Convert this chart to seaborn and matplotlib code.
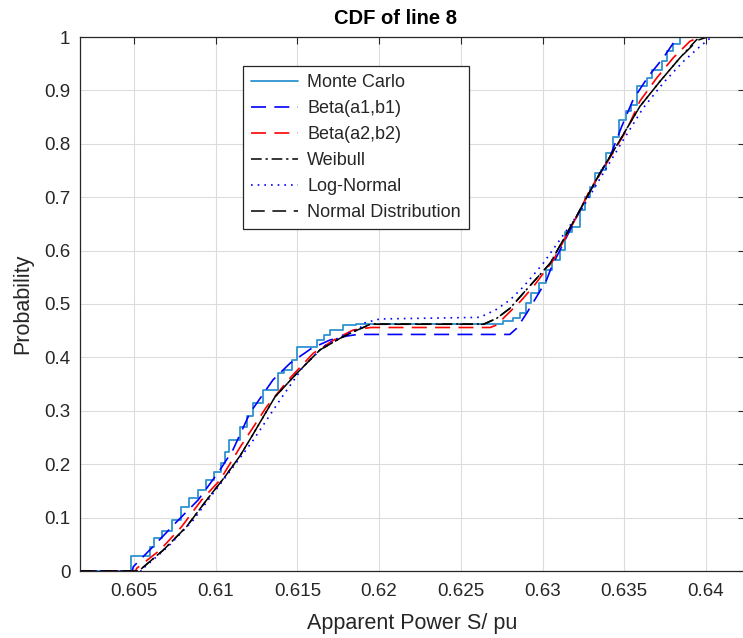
import numpy as np
import pandas as pd
import matplotlib
matplotlib.use("Agg")
import matplotlib.pyplot as plt
import seaborn as sns

# ---------------- data ----------------
mc_x = [0.6017, 0.6048, 0.6060, 0.6062, 0.6067, 0.6073, 0.6079, 0.6084, 0.6089, 0.6094,
        0.6099, 0.6103, 0.6106, 0.6108, 0.6115, 0.6119, 0.6123, 0.6129, 0.6138, 0.6142,
        0.6147, 0.6150, 0.6162, 0.6166, 0.6170, 0.6178, 0.6186, 0.6276, 0.6282, 0.6286,
        0.6290, 0.6293, 0.6298, 0.6302, 0.6306, 0.6311, 0.6314, 0.6318, 0.6323, 0.6326,
        0.6329, 0.6332, 0.6336, 0.6339, 0.6343, 0.6347, 0.6351, 0.6354, 0.6358, 0.6364,
        0.6367, 0.6373, 0.6376, 0.6380, 0.6384, 0.6425]
mc_y = [0.0, 0.028, 0.045, 0.061, 0.075, 0.095, 0.120, 0.137, 0.152, 0.170,
        0.185, 0.202, 0.222, 0.245, 0.270, 0.290, 0.314, 0.339, 0.370, 0.376,
        0.395, 0.420, 0.433, 0.442, 0.451, 0.461, 0.463, 0.468, 0.473, 0.483,
        0.501, 0.520, 0.539, 0.564, 0.582, 0.601, 0.635, 0.645, 0.676, 0.700,
        0.720, 0.745, 0.751, 0.782, 0.813, 0.845, 0.862, 0.873, 0.908, 0.923,
        0.939, 0.955, 0.974, 0.986, 1.0, 1.0]

beta1_x = [0.6017, 0.6049, 0.60496, 0.60618, 0.60761, 0.60893, 0.61026, 0.61106, 0.61210,
           0.61351, 0.61455, 0.61587, 0.61700, 0.61802, 0.6187, 0.6280, 0.62842, 0.62903,
           0.62964, 0.63025, 0.63056, 0.63107, 0.63270, 0.63413, 0.63484, 0.63555, 0.63647,
           0.63739, 0.63821, 0.63841, 0.6425]
beta1_y = [0.0, 0.0, 0.008, 0.046, 0.092, 0.133, 0.189, 0.227, 0.296,
           0.358, 0.389, 0.417, 0.4326, 0.440, 0.443, 0.443, 0.4545, 0.4826,
           0.5137, 0.545, 0.570, 0.601, 0.700, 0.776, 0.832, 0.883, 0.926,
           0.961, 0.998, 1.0, 1.0]

beta2_x = [0.6017, 0.6051, 0.60517, 0.60659, 0.60792, 0.60914, 0.61026, 0.61150, 0.61312,
           0.61444, 0.61597, 0.61740, 0.61842, 0.6195, 0.6268, 0.62719, 0.62801, 0.62862,
           0.62943, 0.63004, 0.63066, 0.63209, 0.63290, 0.63392, 0.63515, 0.63596, 0.63698,
           0.63800, 0.63902, 0.63963, 0.6425]
beta2_y = [0.0, 0.0, 0.005, 0.039, 0.083, 0.133, 0.170, 0.232, 0.3077,
           0.3577, 0.4077, 0.4358, 0.4513, 0.456, 0.456, 0.4607, 0.4856, 0.504,
           0.532, 0.557, 0.582, 0.6635, 0.7135, 0.7635, 0.826, 0.880, 0.923,
           0.961, 0.992, 1.0, 1.0]

weib_x = [0.6017, 0.6053, 0.60537, 0.60679, 0.60822, 0.60945, 0.61057, 0.61150, 0.61220,
          0.61363, 0.61496, 0.61638, 0.61761, 0.61842, 0.6195, 0.6264, 0.62719, 0.62801,
          0.62882, 0.62964, 0.63046, 0.63229, 0.63351, 0.63474, 0.63596, 0.63719, 0.63841,
          0.63943, 0.64005, 0.6425]
weib_y = [0.0, 0.0, 0.002, 0.039, 0.083, 0.133, 0.1766, 0.216, 0.2515,
          0.326, 0.370, 0.414, 0.4357, 0.448, 0.4625, 0.4625, 0.473, 0.492,
          0.520, 0.548, 0.576, 0.676, 0.745, 0.807, 0.870, 0.917, 0.961,
          0.995, 1.0, 1.0]

logn_x = [0.6017, 0.6055, 0.60557, 0.60710, 0.60863, 0.60985, 0.61108, 0.61230, 0.61393,
          0.61536, 0.61658, 0.61781, 0.61883, 0.61903, 0.62005, 0.62617, 0.62719, 0.62801,
          0.62882, 0.62943, 0.63004, 0.63249, 0.63372, 0.63494, 0.63616, 0.63739, 0.63861,
          0.63963, 0.64014, 0.64037, 0.6425]
logn_y = [0.0, 0.0, 0.005, 0.046, 0.0955, 0.1455, 0.195, 0.245, 0.320,
          0.3826, 0.420, 0.442, 0.4545, 0.464, 0.472, 0.475, 0.490, 0.5075,
          0.532, 0.554, 0.576, 0.682, 0.745, 0.807, 0.867, 0.914, 0.954,
          0.982, 0.995, 1.0, 1.0]

norm_x = [0.6017, 0.6053, 0.60537, 0.60679, 0.60822, 0.60945, 0.61057, 0.61150, 0.61220,
          0.61363, 0.61496, 0.61638, 0.61761, 0.61842, 0.6195, 0.6264, 0.62719, 0.62801,
          0.62882, 0.62964, 0.63046, 0.63229, 0.63351, 0.63474, 0.63596, 0.63719, 0.63841,
          0.63950, 0.64010, 0.6425]
norm_y = [0.0, 0.0, 0.002, 0.039, 0.083, 0.133, 0.1766, 0.216, 0.2515,
          0.326, 0.370, 0.414, 0.4357, 0.448, 0.462, 0.462, 0.473, 0.492,
          0.520, 0.548, 0.576, 0.676, 0.745, 0.807, 0.870, 0.917, 0.961,
          0.994, 1.0, 1.0]

x_ticks = [0.605, 0.61, 0.615, 0.62, 0.625, 0.63, 0.635, 0.64]
x_tick_labels = ["0.605", "0.61", "0.615", "0.62", "0.625", "0.63", "0.635", "0.64"]
y_ticks = [0.0, 0.1, 0.2, 0.3, 0.4, 0.5, 0.6, 0.7, 0.8, 0.9, 1.0]
y_tick_labels = ["0", "0.1", "0.2", "0.3", "0.4", "0.5", "0.6", "0.7", "0.8", "0.9", "1"]

series = [
    ("Monte Carlo", mc_x, mc_y),
    ("Beta(a1,b1)", beta1_x, beta1_y),
    ("Beta(a2,b2)", beta2_x, beta2_y),
    ("Weibull", weib_x, weib_y),
    ("Log-Normal", logn_x, logn_y),
    ("Normal Distribution", norm_x, norm_y),
]

styles = {
    "Monte Carlo": dict(color="#2f93d1", ls="-", lw=1.3),
    "Beta(a1,b1)": dict(color="#0000ff", ls=(0, (9, 5)), lw=1.2),
    "Beta(a2,b2)": dict(color="#ff0000", ls=(0, (9, 5)), lw=1.2),
    "Weibull": dict(color="#000000", ls=(0, (7, 2.5, 1.5, 2.5)), lw=1.1),
    "Log-Normal": dict(color="#0000ff", ls=(0, (1, 3)), lw=1.2),
    "Normal Distribution": dict(color="#000000", ls=(0, (9, 5)), lw=1.1),
}

# ---------------- plotting ----------------
sns.set_theme(style="white")
plt.rcParams["font.family"] = ["Liberation Sans", "DejaVu Sans"]

fig = plt.figure(figsize=(7.43, 6.38), dpi=100)
ax = fig.add_axes([80 / 743, 67 / 638, 665 / 743, 534 / 638])

for name, xs, ys in series:
    df = pd.DataFrame({"x": xs, "y": ys})
    st = styles[name]
    kw = {}
    if name == "Monte Carlo":
        kw["drawstyle"] = "steps-post"
    sns.lineplot(data=df, x="x", y="y", ax=ax, estimator=None, sort=False,
                 color=st["color"], linewidth=st["lw"], label=name, **kw)
    ax.lines[-1].set_linestyle(st["ls"])

ax.set_xlim(0.6017, 0.64239)
ax.set_ylim(0, 1)
ax.set_xticks(x_ticks)
ax.set_xticklabels(x_tick_labels)
ax.set_yticks(y_ticks)
ax.set_yticklabels(y_tick_labels)

ax.grid(True, color="#dcdcdc", linewidth=0.8)
ax.set_axisbelow(True)
for sp in ax.spines.values():
    sp.set_color("#262626")
    sp.set_linewidth(0.9)
ax.tick_params(axis="both", which="major", direction="in", length=5, width=0.8,
               colors="#262626", labelsize=13.5, top=True, right=True)
ax.tick_params(axis="x", pad=9)
ax.tick_params(axis="y", pad=7)

ax.set_xlabel("Apparent Power S/ pu", fontsize=15.5, color="#262626", labelpad=9)
ax.set_ylabel("Probability", fontsize=15.5, color="#262626", labelpad=8)
ax.set_title("CDF of line 8", fontsize=14.5, fontweight="bold", color="#000000",
             x=0.475, pad=9)

leg = ax.legend(loc="upper left", bbox_to_anchor=(0.245, 0.946), borderaxespad=0,
                fontsize=13, frameon=True, fancybox=False, shadow=False,
                edgecolor="#262626", framealpha=1, handlelength=2.6,
                labelspacing=0.5, borderpad=0.45, handletextpad=0.5)
leg.get_frame().set_linewidth(0.9)
for t in leg.get_texts():
    t.set_color("#262626")

fig.savefig("out.png", dpi=100)
